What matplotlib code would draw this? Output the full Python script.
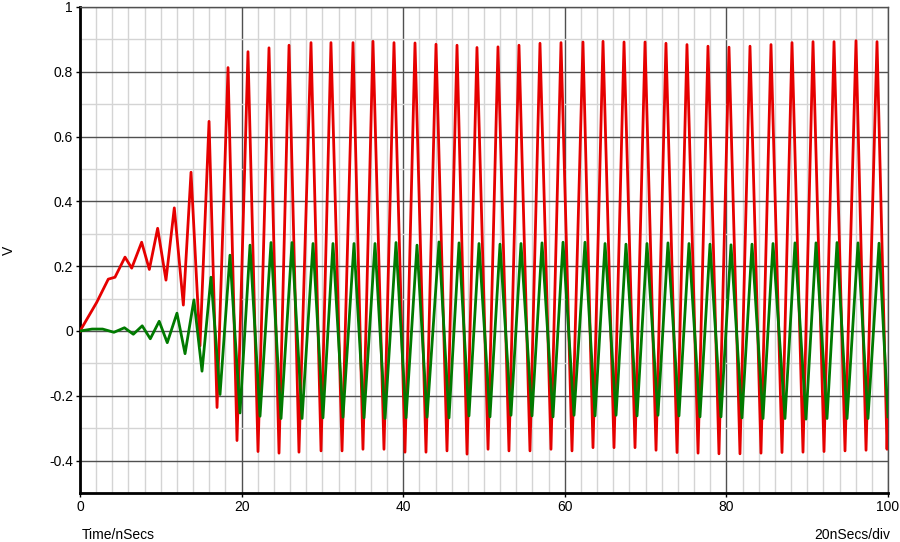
import numpy as np
import matplotlib.pyplot as plt

plt.rcParams['font.family'] = ['Liberation Sans', 'DejaVu Sans']
plt.rcParams['axes.unicode_minus'] = False

# red trace: start-up ramp, then peaks and troughs (ns, V)
red_rise_t = [0.0, 2.06, 3.5, 4.33]
red_rise_v = [0.0, 0.088, 0.16, 0.166]
red_peak_t = [5.57, 7.63, 9.61, 11.67, 13.74, 15.97, 18.32, 20.79, 23.39, 25.87,
              28.59, 31.06, 33.79, 36.26, 38.86, 41.46, 44.06, 46.66, 49.13, 51.73,
              54.33, 56.93, 59.53, 62.25, 64.73, 67.33, 69.93, 72.52, 75.12, 77.72,
              80.32, 82.92, 85.52, 88.12, 90.72, 93.32, 96.04, 98.64]
red_peak_v = [0.228, 0.274, 0.317, 0.38, 0.49, 0.647, 0.813, 0.862, 0.874, 0.882,
              0.89, 0.89, 0.89, 0.894, 0.89, 0.889, 0.885, 0.882, 0.875, 0.877,
              0.882, 0.888, 0.89, 0.892, 0.894, 0.892, 0.892, 0.888, 0.884, 0.879,
              0.876, 0.879, 0.884, 0.89, 0.893, 0.893, 0.896, 0.893]
red_trough_t = [6.4, 8.58, 10.64, 12.79, 14.85, 16.96, 19.43, 22.03, 24.63, 27.10,
                29.83, 32.43, 35.02, 37.62, 40.22, 42.82, 45.42, 47.90, 50.50, 53.09,
                55.69, 58.29, 60.89, 63.49, 66.09, 68.69, 71.29, 73.89, 76.49, 79.08,
                81.68, 84.28, 86.88, 89.48, 92.08, 94.68, 97.28, 99.88]
red_trough_v = [0.194, 0.19, 0.157, 0.08, -0.046, -0.236, -0.338, -0.372, -0.377, -0.374,
                -0.37, -0.37, -0.365, -0.365, -0.374, -0.374, -0.37, -0.38, -0.365, -0.37,
                -0.37, -0.365, -0.37, -0.36, -0.36, -0.36, -0.368, -0.375, -0.377, -0.379,
                -0.379, -0.377, -0.375, -0.374, -0.372, -0.37, -0.368, -0.365]
red_end_t, red_end_v = 100.0, -0.25

# green trace
green_rise_t = [0.0, 1.5, 2.8]
green_rise_v = [0.0, 0.006, 0.006]
green_peak_t = [5.5, 7.7, 9.8, 12.0, 14.1, 16.21, 18.56, 21.04, 23.64, 26.24,
                28.84, 31.31, 33.91, 36.51, 39.11, 41.71, 44.43, 46.91, 49.38, 51.98,
                54.58, 57.18, 59.78, 62.50, 64.98, 67.57, 70.17, 72.77, 75.37, 77.97,
                80.57, 83.17, 85.77, 88.49, 91.09, 93.69, 96.29, 98.89]
green_peak_v = [0.01, 0.016, 0.03, 0.055, 0.096, 0.166, 0.234, 0.265, 0.273, 0.273,
                0.27, 0.27, 0.27, 0.27, 0.273, 0.265, 0.275, 0.272, 0.27, 0.268,
                0.27, 0.272, 0.274, 0.274, 0.27, 0.268, 0.27, 0.272, 0.27, 0.268,
                0.266, 0.268, 0.27, 0.272, 0.272, 0.273, 0.272, 0.271]
green_trough_t = [4.2, 6.6, 8.7, 10.8, 13.0, 15.1, 17.33, 19.80, 22.28, 24.88,
                  27.48, 30.07, 32.55, 35.15, 37.75, 40.35, 42.95, 45.67, 48.14, 50.74,
                  53.34, 55.94, 58.54, 61.14, 63.74, 66.34, 68.94, 71.53, 74.13, 76.73,
                  79.33, 81.93, 84.53, 87.25, 89.85, 92.45, 94.93, 97.52]
green_trough_v = [-0.004, -0.01, -0.024, -0.036, -0.07, -0.124, -0.196, -0.253, -0.263, -0.27,
                  -0.27, -0.268, -0.266, -0.268, -0.27, -0.268, -0.266, -0.268, -0.262, -0.265,
                  -0.26, -0.262, -0.265, -0.26, -0.262, -0.26, -0.262, -0.26, -0.262, -0.265,
                  -0.265, -0.268, -0.27, -0.27, -0.272, -0.27, -0.27, -0.27]
green_end_t, green_end_v = 100.0, -0.265

y_ticks = [-0.4, -0.2, 0, 0.2, 0.4, 0.6, 0.8, 1]
y_labels = ['-0.4', '-0.2', '0', '0.2', '0.4', '0.6', '0.8', '1']
x_ticks = [0, 20, 40, 60, 80, 100]


def join(rise_t, rise_v, pk_t, pk_v, tr_t, tr_v, end_t, end_v):
    t = np.concatenate([rise_t, pk_t, tr_t, [end_t]])
    v = np.concatenate([rise_v, pk_v, tr_v, [end_v]])
    order = np.argsort(t)
    return t[order], v[order]


red_t, red_v = join(red_rise_t, red_rise_v, red_peak_t, red_peak_v,
                    red_trough_t, red_trough_v, red_end_t, red_end_v)
green_t, green_v = join(green_rise_t, green_rise_v, green_peak_t, green_peak_v,
                        green_trough_t, green_trough_v, green_end_t, green_end_v)

fig = plt.figure(figsize=(9, 5.42), dpi=100)
ax = fig.add_axes([80 / 900, 1 - 493 / 542, 808 / 900, 486 / 542])

ax.plot(red_t, red_v, color='#e60000', lw=2.0, zorder=3, solid_joinstyle='round')
ax.plot(green_t, green_v, color='#007a00', lw=2.0, zorder=4, solid_joinstyle='round')

ax.set_xlim(0, 100)
ax.set_ylim(-0.5, 1)
ax.set_xticks(x_ticks)
ax.set_xticks(np.arange(0, 101, 2), minor=True)
ax.set_yticks(y_ticks)
ax.set_yticklabels(y_labels)
ax.set_yticks(np.arange(-5, 11) / 10, minor=True)

ax.set_axisbelow(True)
ax.grid(which='minor', color='#d4d4d4', lw=1)
ax.grid(which='major', color='#505050', lw=1)

for side in ['top', 'right']:
    ax.spines[side].set_color('#505050')
    ax.spines[side].set_linewidth(1)
for side in ['left', 'bottom']:
    ax.spines[side].set_linewidth(2)

ax.tick_params(which='major', labelsize=10, length=3, width=1, pad=2)
ax.tick_params(which='minor', length=0)

fig.text(9 / 900, 1 - 250 / 542, 'V', fontsize=10, rotation=90, ha='center', va='center')
fig.text(82 / 900, 1 - 535 / 542, 'Time/nSecs', fontsize=10, ha='left', va='center')
fig.text(890 / 900, 1 - 535 / 542, '20nSecs/div', fontsize=10, ha='right', va='center')

fig.savefig('out.png', dpi=100)
